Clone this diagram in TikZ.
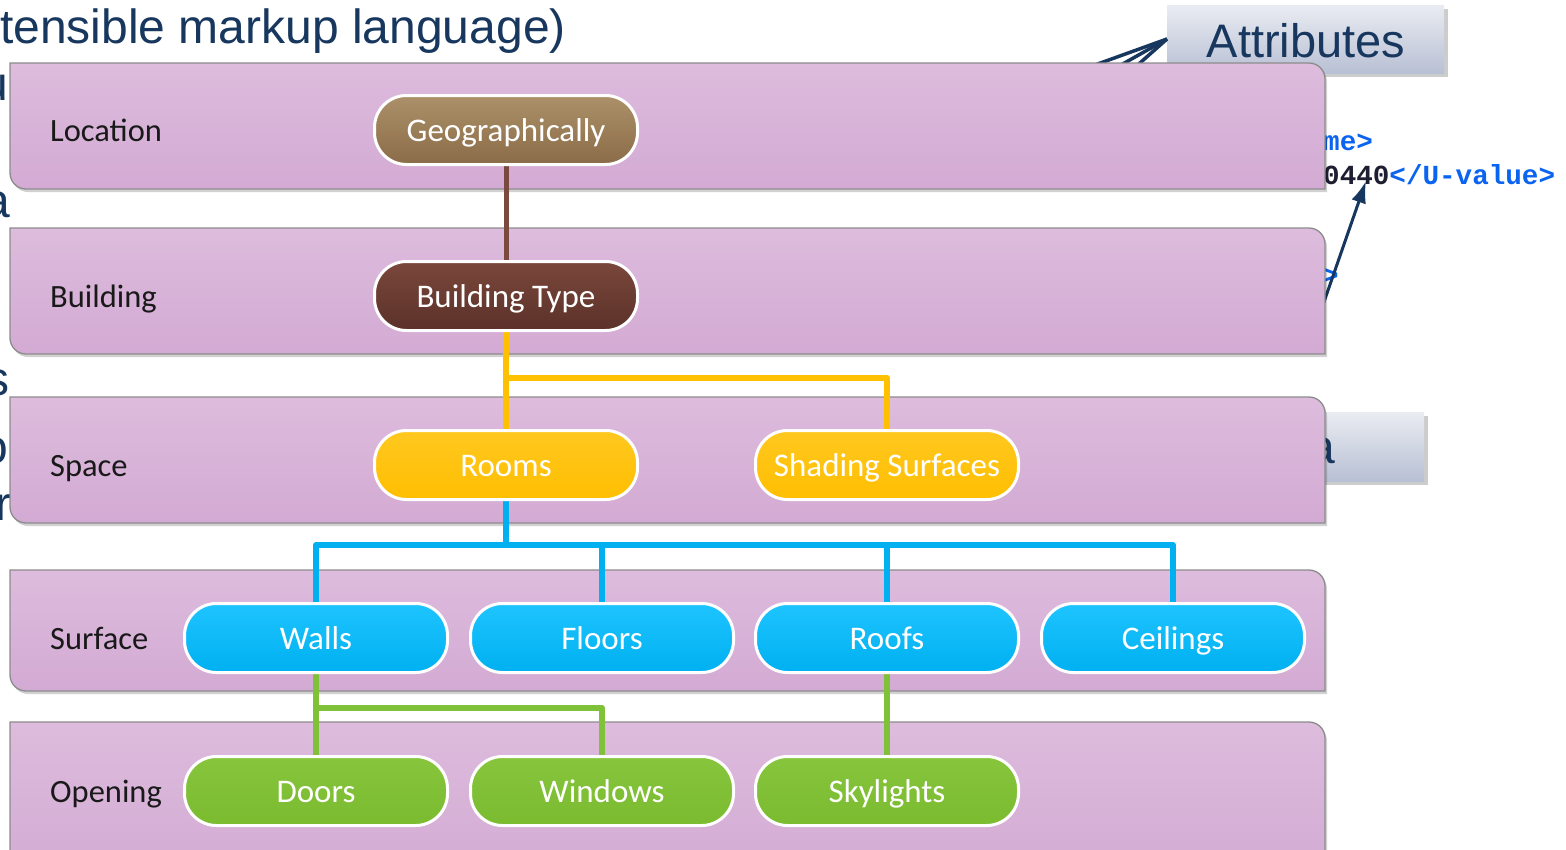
\documentclass[tikz,border=0pt]{standalone}
\usepackage{fontspec}
\usetikzlibrary{arrows.meta}
\newfontfamily\carl{Carlito}
\newfontfamily\arl{Liberation Sans}
\newfontfamily\mon{Liberation Mono}
\definecolor{bandT}{HTML}{DDBCDD}
\definecolor{bandB}{HTML}{D3AAD3}
\definecolor{bandE}{HTML}{8C8C8C}
\definecolor{geoT}{HTML}{AC9069}
\definecolor{geoB}{HTML}{8A6D48}
\definecolor{btT}{HTML}{7A473B}
\definecolor{btB}{HTML}{5B3129}
\definecolor{yelT}{HTML}{FFC820}
\definecolor{yelB}{HTML}{FFBE00}
\definecolor{bluT}{HTML}{1EC4FF}
\definecolor{bluB}{HTML}{00B0F0}
\definecolor{grnT}{HTML}{86C53C}
\definecolor{grnB}{HTML}{7BBB30}
\definecolor{cBrown}{HTML}{7A4A40}
\definecolor{cYel}{HTML}{FFC000}
\definecolor{cBlue}{HTML}{00B0F0}
\definecolor{cGrn}{HTML}{80C13A}
\definecolor{navy}{HTML}{17375E}
\definecolor{codeblue}{HTML}{0A64F0}
\definecolor{codedark}{HTML}{1E1E32}
\definecolor{boxT}{HTML}{EAECF2}
\definecolor{boxB}{HTML}{B8C0D4}
\newcommand\bandshape[2]{(10,#1) -- (1309,#1) .. controls (1317.8,#1) and (1325,{#1+7.2}) .. (1325,{#1+16}) -- (1325,#2) -- (26,#2) .. controls (17.2,#2) and (10,{#2-7.2}) .. (10,{#2-16}) -- cycle}
\newcommand\myband[2]{%
  \path[fill=black,opacity=0.18] [shift={(2,3)}] \bandshape{#1}{#2};
  \path[top color=bandT,bottom color=bandB,draw=bandE,line width=1.3pt] \bandshape{#1}{#2};}
\tikzset{
  pill/.style={rounded corners=32pt, minimum width=263pt, minimum height=69pt,
    draw=white, line width=3pt, text=white, inner sep=0pt,
    text height=25.7pt, text depth=3.3pt,
    font=\carl\fontsize{33}{33}\selectfont},
  geonode/.style={pill, top color=geoT, bottom color=geoB},
  btnode/.style={pill, top color=btT, bottom color=btB},
  yelnode/.style={pill, top color=yelT, bottom color=yelB},
  blunode/.style={pill, top color=bluT, bottom color=bluB},
  grnnode/.style={pill, top color=grnT, bottom color=grnB},
  bandlabel/.style={anchor=west, inner sep=0pt, text=black!90,
    text height=25.3pt, text depth=3.2pt,
    font=\carl\fontsize{32.5}{32.5}\selectfont},
  link/.style={line width=6pt, line cap=round, line join=round},
  slidetext/.style={anchor=base west, inner sep=0pt, text=navy,
    font=\arl\fontsize{48}{48}\selectfont},
  codetext/.style={anchor=base west, inner sep=0pt,
    font=\mon\bfseries\fontsize{27.6}{27.6}\selectfont},
}
\begin{document}
\begin{tikzpicture}[x=1pt,y=-1pt]
\useasboundingbox (0,0) rectangle (1566,849);
\clip (0,0) rectangle (1566,849);
\fill[white] (0,0) rectangle (1566,849);

% background slide content
\node[slidetext] (title) at (0,43) {tensible markup language)};
\node[slidetext] (f1) at (-19,100) {u};
\node[slidetext] (f2) at (-17,217) {a};
\node[slidetext] (f3) at (-15,395) {s};
\node[slidetext] (f4) at (-19,463) {o};
\node[slidetext] (f5) at (-5,520) {r};

% Attributes box
\fill[black,opacity=0.2] (1171,9) rectangle (1448,77);
\path[top color=boxT,bottom color=boxB] (1167,5) rectangle (1444,73);
\node[anchor=base, inner sep=0pt, text=navy, font=\arl\fontsize{47}{47}\selectfont] (attr) at (1306,57) {Attributes};
\coordinate (attrw) at (1167,39);
\coordinate (a1) at (1081,70);
\coordinate (a2) at (1112,70);
\coordinate (a3) at (1132,70);
\draw[navy,line width=3.5pt] (attrw) -- (a1);
\draw[navy,line width=3.5pt] (attrw) -- (a2);
\draw[navy,line width=3.5pt] (attrw) -- (a3);

% second grey box
\fill[black,opacity=0.2] (1204,416) rectangle (1428,485);
\path[top color=boxT,bottom color=boxB] (1200,412) rectangle (1424,481);
\node[slidetext] (f6) at (1308,463) {a};

% code text
\node[codetext,text=codeblue] (c1) at (1323,150) {me>};
\node[codetext] (c2) at (1323,184) {\textcolor{codedark}{0440}\textcolor{codeblue}{</U-value>}};
\node[codetext,text=codeblue] (c3) at (1322,284) {>};
\coordinate (arrs) at (1317,322);
\coordinate (arre) at (1366,181);
\draw[navy,line width=3pt,-{Latex[length=22pt,width=15pt]}] (arrs) -- (arre);

% bands
\myband{63}{189}
\myband{228}{354}
\myband{397}{523}
\myband{570}{691}
\myband{722}{880}

\node[bandlabel] (lloc) at (50,130) {Location};
\node[bandlabel] (lbld) at (50,296) {Building};
\node[bandlabel] (lspc) at (50,465) {Space};
\node[bandlabel] (lsrf) at (50,638) {Surface};
\node[bandlabel] (lopn) at (50,791) {Opening};

% node positions
\path (506,130) coordinate (pgeo) (506,296) coordinate (pbt)
      (506,465) coordinate (prooms) (887,465) coordinate (pshade)
      (316,638) coordinate (pwalls) (602,638) coordinate (pfloors)
      (887,638) coordinate (proofs) (1173,638) coordinate (pceil)
      (316,791) coordinate (pdoors) (602,791) coordinate (pwin)
      (887,791) coordinate (psky);

\coordinate (yb) at (506,378);
\coordinate (bb) at (506,545);
\coordinate (gb) at (316,708);

% connectors
\draw[link,cBrown,line width=5pt] (pgeo) -- (pbt);
\draw[link,cYel] (pbt) -- (prooms);
\draw[link,cYel] (yb) -| (pshade);
\draw[link,cBlue] (prooms) -- (bb);
\draw[link,cBlue] (pwalls) -- (pwalls |- bb) -- (pceil |- bb) -- (pceil);
\draw[link,cBlue] (pfloors |- bb) -- (pfloors);
\draw[link,cBlue] (proofs |- bb) -- (proofs);
\draw[link,cGrn] (pwalls) -- (pdoors);
\draw[link,cGrn] (gb) -| (pwin);
\draw[link,cGrn] (proofs) -- (psky);

\node[geonode] (geo) at (pgeo) {Geographically};
\node[btnode] (bt) at (pbt) {Building Type};
\node[yelnode] (rooms) at (prooms) {Rooms};
\node[yelnode] (shade) at (pshade) {Shading Surfaces};
\node[blunode] (walls) at (pwalls) {Walls};
\node[blunode] (floors) at (pfloors) {Floors};
\node[blunode] (roofs) at (proofs) {Roofs};
\node[blunode] (ceil) at (pceil) {Ceilings};
\node[grnnode] (doors) at (pdoors) {Doors};
\node[grnnode] (win) at (pwin) {Windows};
\node[grnnode] (sky) at (psky) {Skylights};
\end{tikzpicture}
\end{document}
